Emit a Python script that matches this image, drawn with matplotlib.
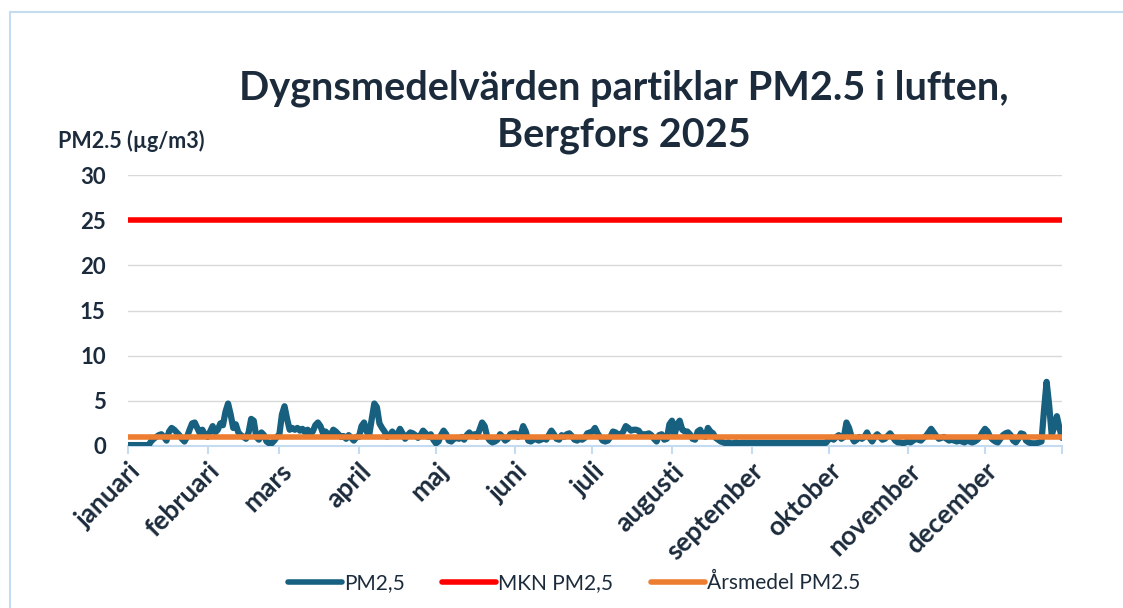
import matplotlib.pyplot as plt
from matplotlib.lines import Line2D
from matplotlib.patches import Rectangle
import numpy as np

plt.rcParams["font.family"] = ["Lato", "DejaVu Sans"]

# ── Data (daily means) ───────────────────────────────────────────
jan = [0.1] * 9 + [0.5, 0.8, 1.0, 1.2, 1.3, 1.0, 0.6, 1.6, 2.0, 1.8, 1.5, 1.2, 0.8,
                   0.5, 1.0, 1.8, 2.5, 2.6, 2.0, 1.4, 1.8, 1.2]
feb = [1.0, 1.6, 2.2, 1.5, 1.8, 2.5, 2.3, 3.8, 4.7, 3.5, 2.0, 2.4, 1.5, 1.2, 1.0, 0.8,
       1.5, 3.0, 2.8, 1.0, 0.7, 1.5, 1.2, 0.5, 0.3, 0.3, 0.6, 1.0]
mar = [1.3, 3.5, 4.4, 3.0, 1.8, 2.0, 1.8, 2.0, 1.7, 1.9, 1.5, 1.8, 1.3, 1.6, 2.3, 2.6,
       2.2, 1.4, 1.6, 1.3, 1.2, 1.8, 1.6, 1.3, 1.0, 1.1, 0.8, 1.2, 0.9, 0.6, 1.0]
apr = [1.0, 2.2, 2.6, 1.6, 1.2, 3.0, 4.7, 4.3, 2.5, 2.0, 1.6, 1.0, 1.2, 1.6, 1.1, 1.3,
       1.9, 1.4, 0.8, 1.2, 1.5, 1.4, 1.2, 0.9, 1.2, 1.7, 1.4, 1.0, 1.3, 0.7]
may = [0.3, 0.5, 1.2, 1.7, 1.3, 0.6, 0.5, 0.8, 0.9, 0.8, 1.0, 0.7, 1.2, 1.5, 1.1, 1.3,
       1.0, 1.8, 2.6, 2.2, 1.0, 0.6, 0.4, 0.5, 0.7, 1.3, 1.0, 0.6, 0.8, 1.3, 1.4]
jun = [1.4, 1.0, 1.2, 2.2, 1.6, 0.6, 0.5, 0.7, 0.8, 0.6, 0.7, 0.9, 0.7, 1.2, 1.7, 1.3,
       0.8, 0.7, 1.2, 1.0, 1.3, 1.4, 1.1, 0.7, 0.6, 0.8, 0.7, 0.9, 1.4, 1.5]
jul = [1.6, 2.0, 1.4, 1.0, 0.6, 0.5, 0.6, 1.0, 1.6, 1.5, 1.3, 1.2, 1.6, 2.2, 2.0, 1.7,
       1.8, 1.8, 1.7, 1.3, 1.3, 1.3, 1.4, 1.2, 0.8, 0.5, 1.2, 1.3, 0.7, 0.8, 2.4]
aug = [2.8, 1.2, 2.4, 2.8, 1.8, 1.6, 1.6, 1.3, 0.8, 0.7, 1.6, 1.8, 1.2, 1.0, 2.0, 1.6,
       1.4, 0.9, 0.7, 0.5, 0.4, 0.3, 0.4, 0.3, 0.3, 0.4, 0.3, 0.35, 0.35, 0.35, 0.35]
sep = [0.35] * 30
okt = [0.7, 0.9, 0.7, 1.0, 1.2, 0.8, 1.0, 2.6, 2.0, 1.0, 0.5, 0.7, 1.0, 0.8, 1.0, 1.5,
       0.9, 0.5, 1.0, 1.3, 1.0, 0.7, 0.8, 1.1, 1.4, 1.0, 0.6, 0.4, 0.4, 0.3, 0.4]
nov = [0.5, 0.4, 0.6, 0.8, 0.7, 0.6, 0.9, 1.1, 1.5, 1.9, 1.5, 1.1, 0.8, 0.9, 1.0, 0.8,
       0.6, 0.7, 0.6, 0.5, 0.6, 0.5, 0.4, 0.6, 0.5, 0.4, 0.5, 0.7, 1.0, 1.5]
dec = [1.9, 1.6, 1.0, 0.7, 0.5, 0.4, 0.8, 1.2, 1.4, 1.5, 1.2, 0.6, 0.4, 0.8, 1.4, 1.3,
       0.6, 0.4, 0.3, 0.3, 0.3, 0.4, 0.5, 4.0, 7.1, 4.5, 1.2, 2.2, 3.3, 2.0, 0.9]

pm25 = jan + feb + mar + apr + may + jun + jul + aug + sep + okt + nov + dec
mkn = 25.0
arsmedel = 1.05

months = ["januari", "februari", "mars", "april", "maj", "juni", "juli",
          "augusti", "september", "oktober", "november", "december"]
month_lengths = [len(m) for m in (jan, feb, mar, apr, may, jun, jul, aug, sep, okt, nov, dec)]

navy = "#1c2b3c"
blue = "#17607f"
red = "#ff0000"
orange = "#ed7d31"
axis_blue = "#c5dcf0"

days = np.arange(len(pm25))
month_starts = np.concatenate([[0], np.cumsum(month_lengths)[:-1]])

fig = plt.figure(figsize=(11.23, 6.08), dpi=100)
fig.patch.set_facecolor("white")
fig.add_artist(Rectangle((10 / 1123, -0.1), 1.2, (608 - 12) / 608 + 0.1,
                         transform=fig.transFigure, fill=False,
                         edgecolor=axis_blue, linewidth=1.5))

ax = fig.add_axes([128 / 1123, (608 - 446) / 608, 934 / 1123, 271 / 608])

ax.plot(days, pm25, color=blue, linewidth=4.5, solid_joinstyle="round",
        solid_capstyle="round", zorder=3)
ax.plot([days[0], days[-1]], [mkn, mkn], color=red, linewidth=4,
        solid_capstyle="round", zorder=3)
ax.plot([days[0], days[-1]], [arsmedel, arsmedel], color=orange, linewidth=4,
        solid_capstyle="round", zorder=4)

ax.set_xlim(0, len(pm25) - 1)
ax.set_ylim(0, 30)
ax.set_yticks(range(0, 31, 5))
ax.grid(axis="y", color="#d9d9d9", linewidth=1)
ax.set_axisbelow(True)
for s in ("left", "right", "top"):
    ax.spines[s].set_visible(False)
ax.spines["bottom"].set_color(axis_blue)
ax.spines["bottom"].set_linewidth(1.5)

ax.tick_params(axis="y", length=0, pad=16, labelsize=16, labelcolor=navy)
for lbl in ax.get_yticklabels():
    lbl.set_fontweight("bold")

ax.set_xticks(list(month_starts) + [len(pm25) - 1])
ax.set_xticklabels(months + [""], rotation=45, ha="right", va="top",
                   rotation_mode="anchor", fontsize=19, fontweight="bold", color=navy)
ax.tick_params(axis="x", length=6, width=1.5, color=axis_blue, pad=3)

fig.text(624 / 1123, 1 - 88 / 608, "Dygnsmedelvärden partiklar PM2.5 i luften,",
         ha="center", va="center", fontsize=28.5, fontweight="bold", color=navy)
fig.text(624 / 1123, 1 - 135 / 608, "Bergfors 2025",
         ha="center", va="center", fontsize=28.5, fontweight="bold", color=navy)
fig.text(58 / 1123, 1 - 141 / 608, "PM2.5 (µg/m3)",
         ha="left", va="center", fontsize=15.5, fontweight="bold", color=navy)

handles = [Line2D([], [], color=blue, linewidth=4, solid_capstyle="round"),
           Line2D([], [], color=red, linewidth=4, solid_capstyle="round"),
           Line2D([], [], color=orange, linewidth=4, solid_capstyle="round")]
fig.legend(handles, ["PM2,5", "MKN PM2,5", "Årsmedel PM2.5"],
           loc="center", bbox_to_anchor=(574 / 1123, 1 - 583 / 608), ncol=3,
           frameon=False, fontsize=15, labelcolor=navy, handlelength=2.6,
           handletextpad=0.1, columnspacing=1.8)

plt.savefig("out.png", dpi=100, facecolor=fig.get_facecolor())
plt.close()
